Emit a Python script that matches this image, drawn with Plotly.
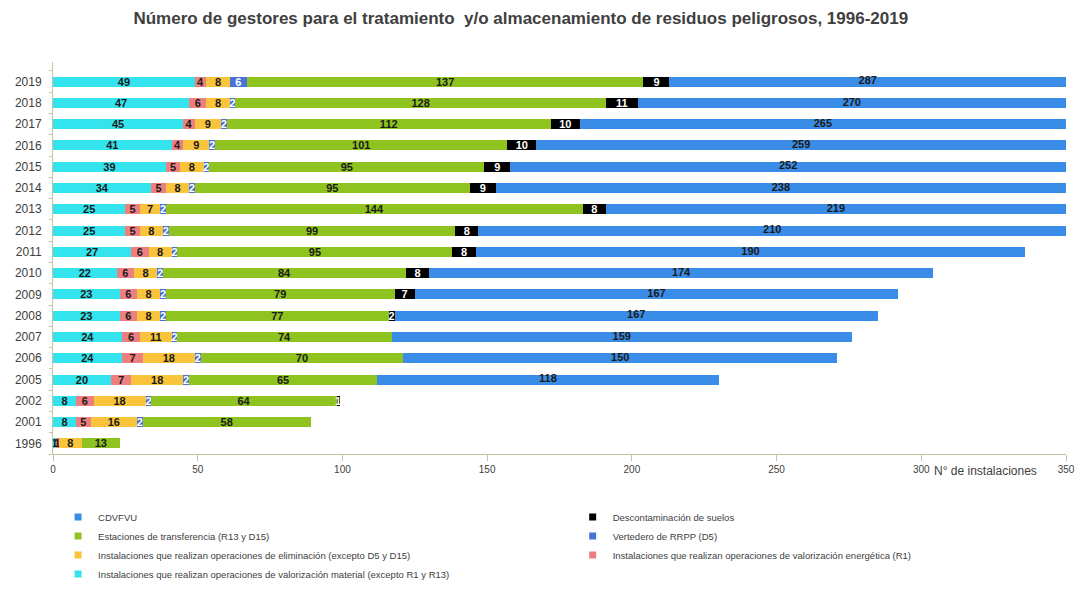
import plotly.graph_objects as go

years = ["1996", "2001", "2002", "2005", "2006", "2007", "2008", "2009", "2010",
         "2011", "2012", "2013", "2014", "2015", "2016", "2017", "2018", "2019"]

val_material = [1, 8, 8, 20, 24, 24, 23, 23, 22, 27, 25, 25, 34, 39, 41, 45, 47, 49]
val_energetica = [1, 5, 6, 7, 7, 6, 6, 6, 6, 6, 5, 5, 5, 5, 4, 4, 6, 4]
eliminacion = [8, 16, 18, 18, 18, 11, 8, 8, 8, 8, 8, 7, 8, 8, 9, 9, 8, 8]
vertedero = [None, 2, 2, 2, 2, 2, 2, 2, 2, 2, 2, 2, 2, 2, 2, 2, 2, 6]
estaciones = [13, 58, 64, 65, 70, 74, 77, 79, 84, 95, 99, 144, 95, 95, 101, 112, 128, 137]
descontaminacion = [None, None, 1, None, None, None, 2, 7, 8, 8, 8, 8, 9, 9, 10, 10, 11, 9]
cdvfvu = [None, None, None, 118, 150, 159, 167, 167, 174, 190, 210, 219, 238, 252, 259, 265, 270, 287]

x_ticks = [0, 50, 100, 150, 200, 250, 300, 350]
XMAX = 350

# name, values, colour, label colour, legend, legend order
series = [
    ("Instalaciones que realizan operaciones de valorización material (excepto R1 y R13)", val_material, "#33E3EE", "#1a1a1a", "legend", 4),
    ("Instalaciones que realizan operaciones de valorización energética (R1)", val_energetica, "#EE7F80", "#1a1a1a", "legend2", 3),
    ("Instalaciones que realizan operaciones de eliminación (excepto D5 y D15)", eliminacion, "#F9C33C", "#1a1a1a", "legend", 3),
    ("Vertedero de RRPP (D5)", vertedero, "#4A72D6", "#ffffff", "legend2", 2),
    ("Estaciones de transferencia (R13 y D15)", estaciones, "#8FC31F", "#1a1a1a", "legend", 2),
    ("Descontaminación de suelos", descontaminacion, "#000000", "#ffffff", "legend2", 1),
    ("CDVFVU", cdvfvu, "#3A8DE6", "#1a1a1a", "legend", 1),
]

LABEL_FONT = dict(family="Arial", size=11, color="#1a1a1a", weight="bold")

fig = go.Figure()
base = [0.0] * len(years)
for name, vals, color, tcol, leg, rank in series:
    last = name == "CDVFVU"
    fig.add_trace(go.Bar(
        y=years, x=vals, name=name, orientation="h",
        marker=dict(color=color, line=dict(width=0)),
        text=[("" if v is None else str(v)) for v in vals],
        textposition="none" if last else "inside",
        insidetextanchor="middle", textangle=0, constraintext="none",
        insidetextfont=dict(LABEL_FONT, color=tcol),
        showlegend=False,
    ))
    if last:
        # label centred on the visible part of the (clipped) bar
        xs, ys, ts = [], [], []
        for i, v in enumerate(vals):
            if v is None:
                continue
            start = base[i]
            end = min(start + v, XMAX)
            xs.append((start + end) / 2)
            ys.append(years[i])
            ts.append(str(v))
        fig.add_trace(go.Scatter(
            x=xs, y=ys, text=ts, mode="text", textfont=LABEL_FONT,
            textposition="middle center",
            showlegend=False, hoverinfo="skip",
        ))
    base = [b + (0 if v is None else v) for b, v in zip(base, vals)]
    # legend entry
    fig.add_trace(go.Scatter(
        x=[None], y=[None], mode="markers", name=name,
        marker=dict(symbol="square", size=7, color=color),
        legend=leg, legendrank=rank, showlegend=True,
    ))

leg_font = dict(family="Arial", size=9.5, color="#404040")
fig.update_layout(
    barmode="stack",
    bargap=0.53,
    width=1076, height=589,
    paper_bgcolor="white", plot_bgcolor="white",
    margin=dict(l=53, r=10, t=62, b=135, autoexpand=False),
    title=dict(
        text="<b>Número de gestores para el tratamiento  y/o almacenamiento de residuos peligrosos, 1996-2019</b>",
        x=0.484, xanchor="center", y=0.969, yanchor="middle",
        font=dict(family="Arial", size=17, color="#404040"),
    ),
    font=dict(family="Arial", size=10, color="#404040"),
    xaxis=dict(
        range=[0, XMAX], tickvals=x_ticks, showgrid=False, zeroline=False,
        showline=True, linecolor="#C5C69C", linewidth=1,
        ticks="outside", ticklen=6, tickcolor="#C5C69C",
        tickfont=dict(family="Arial", size=10, color="#404040"),
    ),
    yaxis=dict(
        categoryorder="array", categoryarray=years,
        showgrid=False, zeroline=False,
        showline=True, linecolor="#C5C69C", linewidth=1,
        ticks="outside", ticklen=3, tickcolor="#C5C69C", tickson="boundaries",
        ticklabelstandoff=8,
        tickfont=dict(family="Arial", size=12, color="#404040"),
    ),
    legend=dict(
        orientation="v", x=0.005, xanchor="left", y=-0.124, yanchor="top",
        font=leg_font, bgcolor="rgba(0,0,0,0)", itemwidth=30, tracegroupgap=0,
        traceorder="normal",
    ),
    legend2=dict(
        orientation="v", x=0.513, xanchor="left", y=-0.124, yanchor="top",
        font=leg_font, bgcolor="rgba(0,0,0,0)", itemwidth=30, tracegroupgap=0,
        traceorder="normal",
    ),
)

fig.add_annotation(
    text="N° de instalaciones", xref="paper", yref="paper",
    x=0.868, y=-0.02, xanchor="left", yanchor="top", showarrow=False,
    font=dict(family="Arial", size=12, color="#404040"),
)

fig.write_html(
    "out.html",
    config={"displayModeBar": False},
    post_script="document.body.style.margin='0';document.documentElement.style.overflow='hidden';",
)
